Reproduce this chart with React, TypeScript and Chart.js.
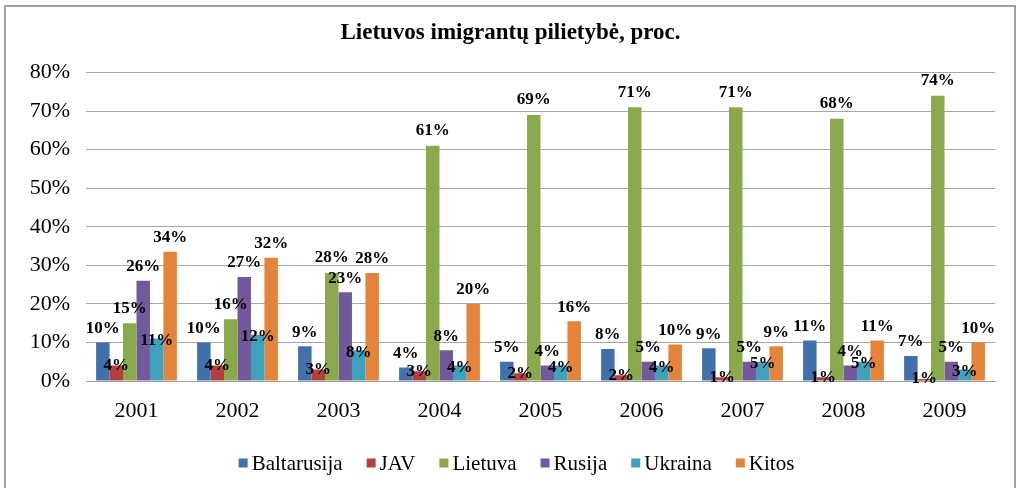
import React, { useEffect, useRef } from "react";
import { Chart, registerables } from "chart.js";

Chart.register(...registerables);

const years = ["2001", "2002", "2003", "2004", "2005", "2006", "2007", "2008", "2009"];
const seriesNames = ["Baltarusija", "JAV", "Lietuva", "Rusija", "Ukraina", "Kitos"];

const baltarusija = [10, 10, 9, 3.5, 5, 8.3, 8.5, 10.5, 6.5];
const jav = [4, 4, 3, 2.5, 2, 1.5, 1, 1, 0.5];
const lietuva = [15, 16, 28, 61, 69, 71, 71, 68, 74];
const rusija = [26, 27, 23, 8, 4, 5, 5, 4, 5];
const ukraina = [11, 12, 8, 4, 4, 4, 5, 5, 3];
const kitos = [33.5, 32, 28, 20, 15.5, 9.5, 9, 10.5, 10];

const yTicks = [0, 10, 20, 30, 40, 50, 60, 70, 80];

const colors = ["#4270ab", "#b3403d", "#8aa84c", "#73599b", "#3fa1bb", "#e4843a"];
const labelOffsets = [-14, 0, -15, -14, 2, -14];

const FONT = "'Liberation Serif', 'Times New Roman', serif";

const framePlugin = {
  id: "frame",
  beforeDraw(chart: any) {
    const ctx = chart.ctx;
    ctx.save();
    ctx.fillStyle = "#ffffff";
    ctx.fillRect(0, 0, chart.width, chart.height);
    ctx.strokeStyle = "#a0a0a0";
    ctx.lineWidth = 2;
    ctx.beginPath();
    ctx.moveTo(5, chart.height + 10);
    ctx.lineTo(5, 6);
    ctx.lineTo(1015, 6);
    ctx.lineTo(1015, chart.height + 10);
    ctx.stroke();
    ctx.restore();
  },
};

const labelPlugin = {
  id: "barLabels",
  afterDatasetsDraw(chart: any) {
    const ctx = chart.ctx;
    ctx.save();
    ctx.font = `bold 17px ${FONT}`;
    ctx.fillStyle = "#000000";
    ctx.textAlign = "center";
    ctx.textBaseline = "middle";
    chart.data.datasets.forEach((ds: any, di: number) => {
      const meta = chart.getDatasetMeta(di);
      meta.data.forEach((el: any, i: number) => {
        const v = ds.data[i];
        ctx.fillText(Math.round(v) + "%", el.x, el.y + labelOffsets[di]);
      });
    });
    ctx.restore();
  },
};

const legendPlugin = {
  id: "customLegend",
  afterDraw(chart: any) {
    const ctx = chart.ctx;
    ctx.save();
    ctx.font = `21px ${FONT}`;
    ctx.textBaseline = "middle";
    const box = 9;
    const gapText = 4;
    const gapItem = 24;
    const widths = chart.data.datasets.map((d: any) => ctx.measureText(d.label).width);
    const total = widths.reduce((a: number, w: number) => a + box + gapText + w, 0) + gapItem * (widths.length - 1);
    let x = chart.width / 2 + 6 - total / 2;
    const y = 463;
    chart.data.datasets.forEach((d: any, i: number) => {
      ctx.fillStyle = d.backgroundColor;
      ctx.fillRect(x, y - box / 2, box, box);
      x += box + gapText;
      ctx.fillStyle = "#000000";
      ctx.fillText(d.label, x, y + 1);
      x += widths[i] + gapItem;
    });
    ctx.restore();
  },
};

export default function App() {
  const ref = useRef<HTMLCanvasElement | null>(null);
  useEffect(() => {
    document.body.style.margin = "0";
    const values = [baltarusija, jav, lietuva, rusija, ukraina, kitos];
    const chart = new Chart(ref.current as HTMLCanvasElement, {
      type: "bar",
      data: {
        labels: years,
        datasets: seriesNames.map((name, i) => ({
          label: name,
          data: values[i],
          backgroundColor: colors[i],
          borderWidth: 0,
          barPercentage: 1.0,
          categoryPercentage: 0.8,
        })),
      },
      options: {
        animation: false,
        responsive: false,
        devicePixelRatio: 1,
        layout: { padding: { left: 0, right: 0, top: 0, bottom: 57 } },
        plugins: {
          legend: { display: false },
          tooltip: { enabled: false },
          title: {
            display: true,
            text: "Lietuvos imigrantų pilietybė, proc.",
            color: "#000000",
            font: { family: FONT, size: 23, weight: "bold" },
            padding: { top: 19, bottom: 26 },
          },
        },
        scales: {
          x: {
            grid: { display: false, drawTicks: false },
            border: { display: true, color: "#a0a0a0", width: 1 },
            ticks: {
              color: "#000000",
              font: { family: FONT, size: 22 },
              padding: 17,
              maxRotation: 0,
            },
            afterFit(scale: any) {
              scale.height = 50;
            },
          },
          y: {
            min: 0,
            max: 80,
            grid: { color: "#a6a6a6", drawTicks: false },
            border: { display: false },
            afterBuildTicks(scale: any) {
              scale.ticks = yTicks.map((v) => ({ value: v }));
            },
            ticks: {
              color: "#000000",
              font: { family: FONT, size: 22 },
              padding: 16,
              callback: (v: any) => v + "%",
            },
            afterFit(scale: any) {
              scale.width = 86;
            },
          },
          yRight: {
            position: "right",
            display: true,
            grid: { display: false, drawTicks: false },
            border: { display: false },
            ticks: { display: false },
            afterFit(scale: any) {
              scale.width = 26;
            },
          },
        },
      },
      plugins: [framePlugin, labelPlugin, legendPlugin],
    });
    return () => chart.destroy();
  }, []);
  return (
    <div style={{ width: 1021, height: 488 }}>
      <canvas ref={ref} width={1021} height={488} style={{ display: "block" }} />
    </div>
  );
}
